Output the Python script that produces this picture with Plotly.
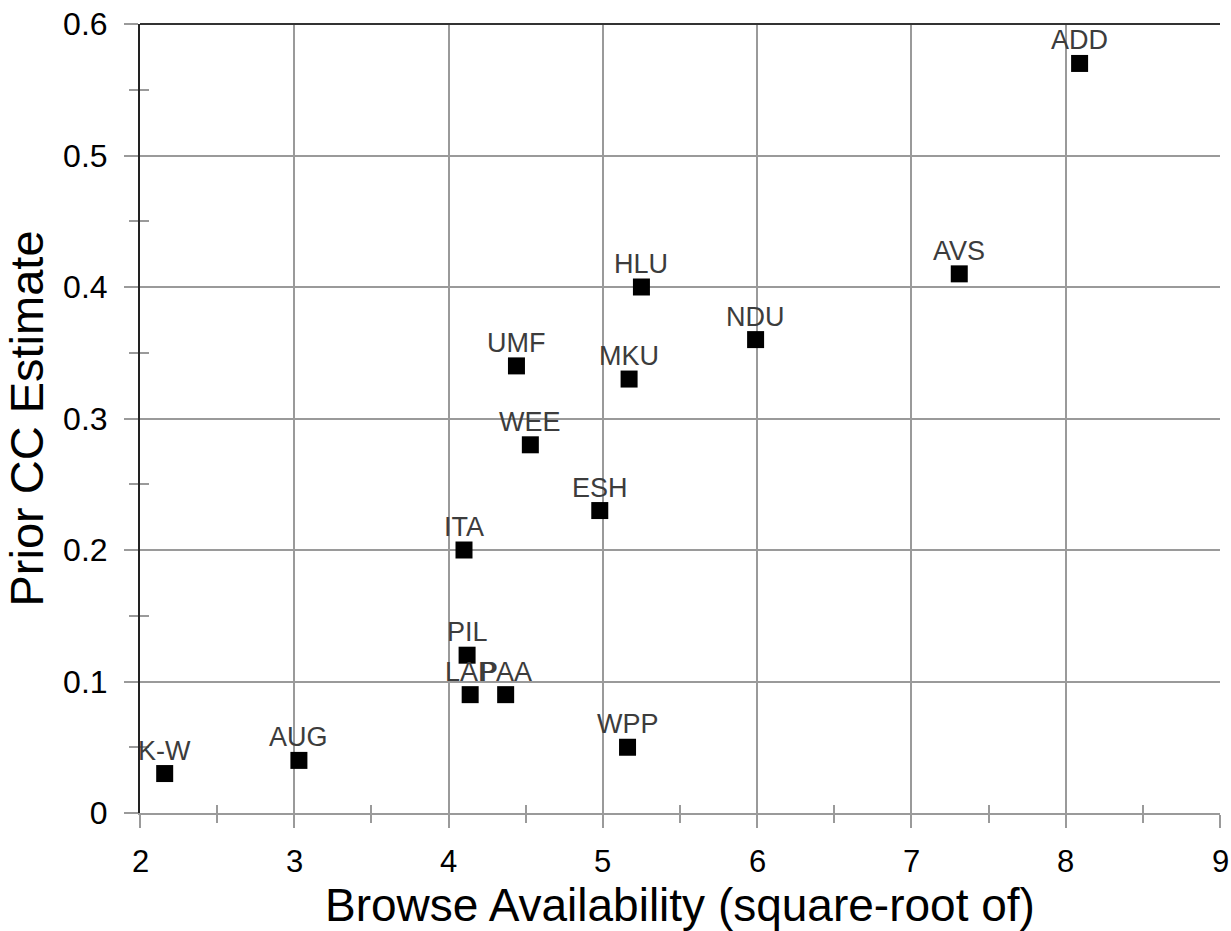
import plotly.graph_objects as go

labels = ["K-W", "AUG", "PIL", "LAP", "PAA", "WPP", "ITA", "ESH", "WEE", "UMF",
          "MKU", "HLU", "NDU", "AVS", "ADD"]
browse = [2.16, 3.03, 4.12, 4.14, 4.37, 5.16, 4.10, 4.98, 4.53, 4.44,
          5.17, 5.25, 5.99, 7.31, 8.09]
prior_cc = [0.03, 0.04, 0.12, 0.09, 0.09, 0.05, 0.20, 0.23, 0.28, 0.34,
            0.33, 0.40, 0.36, 0.41, 0.57]

x_ticks = [2, 3, 4, 5, 6, 7, 8, 9]
x_tick_text = ["2", "3", "4", "5", "6", "7", "8", "9"]
x_minor = [2.5, 3.5, 4.5, 5.5, 6.5, 7.5, 8.5]
y_ticks = [0, 0.1, 0.2, 0.3, 0.4, 0.5, 0.6]
y_tick_text = ["0", "0.1", "0.2", "0.3", "0.4", "0.5", "0.6"]
y_minor = [0.05, 0.15, 0.25, 0.35, 0.45, 0.55]
x_title = "Browse Availability (square-root of)"
y_title = "Prior CC Estimate"

FONT = "Liberation Sans, Arial, sans-serif"
GRID = "#9a9a9a"
PLOT_H = 931 - 24 - 118  # plot-area height in px

fig = go.Figure()
fig.add_trace(go.Scatter(
    x=browse, y=prior_cc, mode="markers",
    marker=dict(symbol="square", size=17, color="black"),
    cliponaxis=False, showlegend=False, hoverinfo="skip",
))
# helper trace for the overlay axes (inside halves of crossing ticks)
fig.add_trace(go.Scatter(x=[None], y=[None], xaxis="x2", yaxis="y2",
                         showlegend=False, hoverinfo="skip"))

# point labels, anchored at each data point and lifted above the marker
for lab, xv, yv in zip(labels, browse, prior_cc):
    fig.add_annotation(
        x=xv, y=yv, xref="x", yref="y", text=lab, showarrow=False,
        xanchor="center", yanchor="middle", yshift=23,
        font=dict(family=FONT, size=27, color="#3c3c3c"),
    )

# x tick labels placed below the axis
for tv, tt in zip(x_ticks, x_tick_text):
    fig.add_annotation(
        x=tv, y=-48 / PLOT_H, xref="x", yref="paper", text=tt, showarrow=False,
        xanchor="center", yanchor="middle",
        font=dict(family=FONT, size=31, color="black"),
    )

# x axis title
fig.add_annotation(
    x=0.5, y=-92 / PLOT_H, xref="paper", yref="paper", text=x_title,
    showarrow=False, xanchor="center", yanchor="middle",
    font=dict(family=FONT, size=46, color="black"),
)

fig.update_layout(
    width=1231, height=931,
    margin=dict(l=140, r=11, t=24, b=118),
    paper_bgcolor="white", plot_bgcolor="white",
    font=dict(family=FONT, color="black"),
    xaxis=dict(
        range=[2, 9], tickvals=x_ticks, showticklabels=False,
        automargin=False,
        showgrid=True, gridcolor=GRID, gridwidth=1.5,
        showline=True, linecolor=GRID, linewidth=2,
        ticks="outside", ticklen=13, tickcolor=GRID, tickwidth=1.5,
        minor=dict(tickvals=x_minor, ticks="outside",
                   ticklen=8, tickcolor=GRID, tickwidth=1.5, showgrid=False),
        zeroline=False,
    ),
    yaxis=dict(
        range=[0, 0.6], tickvals=y_ticks, ticktext=y_tick_text,
        automargin=False,
        showgrid=True, gridcolor=GRID, gridwidth=1.5,
        showline=True, linecolor="#222222", linewidth=2,
        ticks="outside", ticklen=14, tickcolor=GRID, tickwidth=1.5,
        ticklabelstandoff=10,
        minor=dict(tickvals=y_minor, ticks="outside",
                   ticklen=9, tickcolor=GRID, tickwidth=1.5, showgrid=False),
        tickfont=dict(size=32, color="black"),
        title=dict(text=y_title,
                   font=dict(size=47, color="black"), standoff=5),
        zeroline=False,
    ),
    xaxis2=dict(
        overlaying="x", anchor="y2", side="bottom", range=[2, 9],
        automargin=False,
        showgrid=False, showline=False, zeroline=False, showticklabels=False,
        ticks="", tickvals=[],
        minor=dict(tickvals=x_minor, ticks="inside",
                   ticklen=8, tickcolor=GRID, tickwidth=1.5, showgrid=False),
    ),
    yaxis2=dict(
        overlaying="y", anchor="x2", side="left", range=[0, 0.6],
        automargin=False,
        showgrid=False, showline=False, zeroline=False, showticklabels=False,
        ticks="", tickvals=[],
        minor=dict(tickvals=y_minor, ticks="inside",
                   ticklen=9, tickcolor=GRID, tickwidth=1.5, showgrid=False),
    ),
    shapes=[dict(type="line", xref="paper", yref="paper", x0=0, x1=1, y0=1, y1=1,
                 line=dict(color="#333333", width=2))],
)

fig.write_html("out.html")
